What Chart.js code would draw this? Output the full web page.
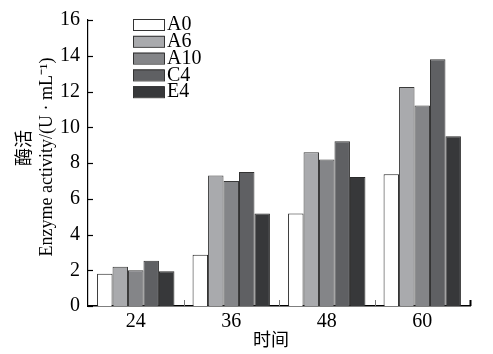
<!DOCTYPE html>
<html><head><meta charset="utf-8">
<script src="https://cdn.jsdelivr.net/npm/chart.js@4/dist/chart.umd.min.js"></script>
<style>html,body{margin:0;padding:0;background:#fff}#wrap{width:493px;height:354px}</style>
</head><body><div id="wrap"><canvas id="c" width="493" height="354"></canvas></div>
<script>
const categories = ['24', '36', '48', '60'];
const seriesNames = ['A0', 'A6', 'A10', 'C4', 'E4'];
const A0 = [1.8, 2.87, 5.18, 7.37];
const A6 = [2.19, 7.3, 8.6, 12.25];
const A10 = [2.0, 7.0, 8.2, 11.22];
const C4 = [2.53, 7.5, 9.22, 13.8];
const E4 = [1.95, 5.18, 7.22, 9.5];
const yTicks = [0, 2, 4, 6, 8, 10, 12, 14, 16];
const fills = ['#ffffff', '#a9aaad', '#848588', '#5f6063', '#37383a'];
const borders = ['#222222', '#3a3a3a', '#3a3a3a', '#333333', '#2a2a2a'];
const values = [A0, A6, A10, C4, E4];

const serif = '"Liberation Serif", "Times New Roman", serif';
const cjk = '"Noto Sans CJK SC", sans-serif';

const decor = {
  id: 'decor',
  afterDraw(chart) {
    const ctx = chart.ctx;
    const ca = chart.chartArea;
    const ys = chart.scales.y;
    ctx.save();
    ctx.strokeStyle = '#000';
    ctx.lineWidth = 1.2;
    yTicks.forEach(v => {
      const y = Math.round(ys.getPixelForValue(v)) + 0.5;
      ctx.beginPath(); ctx.moveTo(ca.left, y); ctx.lineTo(ca.left + 5, y); ctx.stroke();
    });
    const n = categories.length;
    for (let i = 1; i <= n; i++) {
      const x = Math.round(ca.left + (ca.right - ca.left) * i / n) + 0.5;
      ctx.lineWidth = i === n ? 2 : 1;
      ctx.strokeStyle = i === n ? '#000' : '#777';
      ctx.beginPath(); ctx.moveTo(x, ca.bottom); ctx.lineTo(x, ca.bottom - 6); ctx.stroke();
    }
    ctx.textAlign = 'left'; ctx.textBaseline = 'middle';
    ctx.font = '20px ' + serif;
    seriesNames.forEach((name, i) => {
      const top = 19 + i * 16.8;
      ctx.fillStyle = fills[i];
      ctx.fillRect(133, top, 31, 11);
      ctx.strokeStyle = '#333'; ctx.lineWidth = 1;
      ctx.strokeRect(133.5, top + 0.5, 31, 11);
      ctx.fillStyle = '#000';
      ctx.fillText(name, 167, top + 6);
    });
    ctx.save();
    ctx.translate(23, 148); ctx.rotate(-Math.PI / 2);
    ctx.textAlign = 'center'; ctx.textBaseline = 'middle';
    ctx.font = '18px ' + cjk; ctx.fillStyle = '#000';
    ctx.fillText('酶活', 0, 0);
    ctx.restore();
    ctx.save();
    ctx.translate(47, 157); ctx.rotate(-Math.PI / 2);
    ctx.textAlign = 'center'; ctx.textBaseline = 'middle';
    ctx.font = '18px ' + serif; ctx.fillStyle = '#000';
    ctx.fillText('Enzyme activity/(U · mL⁻¹)', 0, 0);
    ctx.restore();
    ctx.textAlign = 'center'; ctx.textBaseline = 'middle';
    ctx.font = '18px ' + cjk; ctx.fillStyle = '#000';
    ctx.fillText('时间', 271, 339);
    ctx.restore();
  }
};

new Chart(document.getElementById('c'), {
  type: 'bar',
  data: {
    labels: categories,
    datasets: seriesNames.map((name, i) => ({
      label: name,
      data: values[i],
      backgroundColor: fills[i],
      borderColor: borders[i],
      borderWidth: 1,
      borderSkipped: 'bottom',
      categoryPercentage: 0.81,
      barPercentage: 1.0
    }))
  },
  options: {
    responsive: false,
    animation: false,
    devicePixelRatio: 1,
    layout: { padding: { top: 11, right: 23, left: 0, bottom: 0 } },
    plugins: { legend: { display: false }, tooltip: { enabled: false } },
    scales: {
      x: {
        grid: { display: false, drawTicks: false },
        border: { display: true, color: '#000', width: 1.5 },
        ticks: { color: '#000', font: { family: serif, size: 20 }, padding: 4 },
        afterFit(s) { s.height = 48; }
      },
      y: {
        min: 0, max: 16,
        grid: { display: false, drawTicks: false },
        border: { display: true, color: '#000', width: 1.2 },
        ticks: { stepSize: 2, color: '#000', font: { family: serif, size: 20 }, padding: 8 },
        afterFit(s) { s.width = 88; }
      }
    }
  },
  plugins: [decor]
});
</script></body></html>
